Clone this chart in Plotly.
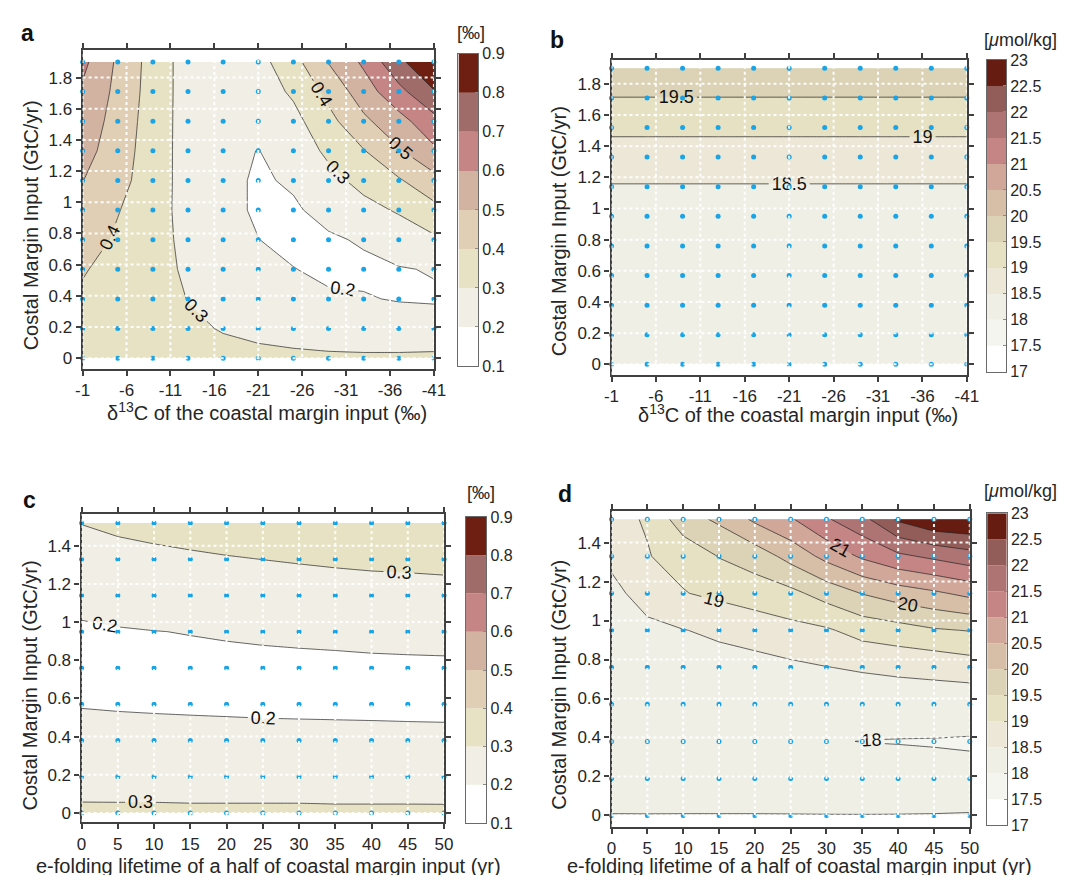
import plotly.graph_objects as go

FONT = "Liberation Sans, Arial, Helvetica, sans-serif"
INK = "#262626"
FRAME = "#404040"
RUN_BLUE = "#18a4e6"
GRID_DOTS = "rgba(255,255,255,0.95)"

# ---- model runs (grid nodes) ----
d13c_runs = [-1, -5, -9, -13, -17, -21, -25, -29, -33, -37, -41]
flux_runs_ab = [0, 0.19, 0.38, 0.57, 0.76, 0.95, 1.14, 1.33, 1.52, 1.71, 1.9]
lifetime_runs = [0, 5, 10, 15, 20, 25, 30, 35, 40, 45, 50]
flux_runs_cd = [0, 0.19, 0.38, 0.57, 0.76, 0.95, 1.14, 1.33, 1.52]

# ---- axis ticks ----
d13c_ticks = [-1, -6, -11, -16, -21, -26, -31, -36, -41]
lifetime_ticks = [0, 5, 10, 15, 20, 25, 30, 35, 40, 45, 50]
flux_ticks_ab = [0, 0.2, 0.4, 0.6, 0.8, 1, 1.2, 1.4, 1.6, 1.8]
flux_ticks_cd = [0, 0.2, 0.4, 0.6, 0.8, 1, 1.2, 1.4]

# ---- contour levels and band colours ----
permil_levels = [0.1, 0.2, 0.3, 0.4, 0.5, 0.6, 0.7, 0.8, 0.9]
permil_colors = ["#ffffff", "#f1efe5", "#e7e2c4", "#e0cfb4", "#d2b2a1",
                 "#c48584", "#a06c6a", "#6e1f12"]
umol_levels = [17, 17.5, 18, 18.5, 19, 19.5, 20, 20.5, 21, 21.5, 22, 22.5, 23]
umol_colors = ["#ffffff", "#f5f5ef", "#f0efe6", "#ece7d6", "#e5e1c2", "#dcd3b6",
               "#d7bea6", "#d1a79a", "#c48584", "#ae7473", "#925d58", "#661c10"]

# ---- (a) d13C change [permil]; rows follow flux_runs_ab, columns d13c_runs ----
a_d13c_change = [
    [0.355, 0.340, 0.340, 0.330, 0.325, 0.320, 0.320, 0.315, 0.313, 0.313, 0.315],
    [0.365, 0.340, 0.335, 0.315, 0.295, 0.280, 0.260, 0.250, 0.245, 0.245, 0.247],
    [0.380, 0.345, 0.335, 0.298, 0.255, 0.230, 0.225, 0.210, 0.205, 0.195, 0.190],
    [0.410, 0.355, 0.335, 0.285, 0.235, 0.215, 0.202, 0.185, 0.185, 0.195, 0.205],
    [0.450, 0.385, 0.335, 0.276, 0.225, 0.201, 0.180, 0.190, 0.208, 0.245, 0.284],
    [0.475, 0.405, 0.340, 0.266, 0.222, 0.190, 0.190, 0.225, 0.270, 0.310, 0.371],
    [0.502, 0.435, 0.345, 0.264, 0.222, 0.190, 0.210, 0.270, 0.330, 0.390, 0.468],
    [0.535, 0.450, 0.348, 0.262, 0.225, 0.198, 0.240, 0.320, 0.395, 0.490, 0.583],
    [0.560, 0.462, 0.352, 0.260, 0.228, 0.225, 0.270, 0.370, 0.480, 0.565, 0.667],
    [0.585, 0.475, 0.357, 0.258, 0.232, 0.250, 0.315, 0.428, 0.553, 0.670, 0.795],
    [0.625, 0.484, 0.360, 0.256, 0.235, 0.265, 0.366, 0.504, 0.617, 0.780, 0.880],
]

# ---- (b) PO4 change [umol/kg]; one value per flux_runs_ab row (same for every d13C) ----
b_po4_profile = [18.20, 18.22, 18.25, 18.28, 18.32, 18.38, 18.47, 18.78, 19.10, 19.49, 19.90]

# ---- (c) d13C change [permil]; rows follow flux_runs_cd, columns lifetime_runs ----
c_d13c_change = [
    [0.312, 0.312, 0.312, 0.311, 0.311, 0.311, 0.311, 0.310, 0.310, 0.310, 0.310],
    [0.272, 0.271, 0.271, 0.270, 0.270, 0.270, 0.270, 0.269, 0.269, 0.269, 0.268],
    [0.238, 0.228, 0.226, 0.223, 0.221, 0.219, 0.2187, 0.2185, 0.217, 0.2163, 0.215],
    [0.195, 0.193, 0.191, 0.190, 0.189, 0.188, 0.187, 0.186, 0.186, 0.185, 0.185],
    [0.178, 0.180, 0.182, 0.186, 0.186, 0.186, 0.186, 0.186, 0.185, 0.185, 0.185],
    [0.185, 0.195, 0.199, 0.2017, 0.205, 0.2085, 0.2118, 0.2152, 0.222, 0.2263, 0.2302],
    [0.233, 0.233, 0.238, 0.242, 0.248, 0.254, 0.258, 0.262, 0.265, 0.270, 0.272],
    [0.260, 0.272, 0.282, 0.290, 0.295, 0.3007, 0.3064, 0.312, 0.317, 0.318, 0.322],
    [0.302, 0.317, 0.3248, 0.3295, 0.3426, 0.345, 0.348, 0.350, 0.353, 0.356, 0.360],
]

# ---- (d) PO4 change [umol/kg]; rows follow flux_runs_cd, columns lifetime_runs ----
d_po4_change = [
    [17.996, 17.996, 17.995, 17.995, 17.995, 17.995, 17.995, 17.995, 17.994, 17.994, 17.994],
    [18.08, 18.09, 18.10, 18.10, 18.10, 18.12, 18.15, 18.17, 18.17, 18.117, 18.07],
    [18.10, 18.11, 18.11, 18.11, 18.10, 18.08, 18.02, 17.995, 17.985, 17.978, 17.975],
    [18.12, 18.15, 18.17, 18.17, 18.16, 18.17, 18.17, 18.174, 18.203, 18.24, 18.156],
    [18.15, 18.22, 18.28, 18.33, 18.335, 18.407, 18.49, 18.554, 18.606, 18.636, 18.75],
    [18.20, 18.37, 18.487, 18.578, 18.704, 18.848, 18.94, 19.182, 19.30, 19.45, 19.52],
    [18.35, 18.725, 18.977, 19.113, 19.25, 19.375, 19.70, 20.02, 20.25, 20.42, 20.63],
    [18.62, 18.98, 19.15, 19.52, 19.727, 20.167, 20.65, 21.077, 21.40, 21.60, 21.80],
    [18.90, 19.03, 19.79, 20.09, 20.59, 20.95, 21.45, 21.85, 22.574, 22.93, 22.98],
]

b_po4_change = [[v for _ in d13c_runs] for v in b_po4_profile]

LABEL_FONT = dict(family=FONT, size=18, color="#111111")
CONTOUR_LINE = dict(color="#222222", width=0.7, smoothing=0)


def band_colorscale(levels, colors):
    # one colour per filled band, plus the colours below the first and above the last level
    stops = [colors[0]] + colors + [colors[-1]]
    n = len(stops) - 1
    return [[i / n, c] for i, c in enumerate(stops)]


def filled_contour(x, y, z, levels, colors, xa, ya, lines=True):
    return go.Contour(
        x=x, y=y, z=z, xaxis=xa, yaxis=ya,
        autocontour=False,
        contours=dict(start=levels[0], end=levels[-1], size=levels[1] - levels[0],
                      coloring="fill", showlines=lines, showlabels=lines,
                      labelfont=LABEL_FONT),
        colorscale=band_colorscale(levels, colors),
        line=CONTOUR_LINE, showscale=False, hoverinfo="skip",
    )


def line_contour(x, y, z, start, end, step, xa, ya, labels):
    return go.Contour(
        x=x, y=y, z=z, xaxis=xa, yaxis=ya,
        autocontour=False,
        contours=dict(start=start, end=end, size=step, coloring="none",
                      showlines=True, showlabels=labels, labelfont=LABEL_FONT),
        line=CONTOUR_LINE, showscale=False, hoverinfo="skip",
    )


def run_nodes(x, y, xa, ya):
    return go.Scatter(
        x=[xv for _ in y for xv in x], y=[yv for yv in y for _ in x],
        mode="markers", marker=dict(color=RUN_BLUE, size=5),
        xaxis=xa, yaxis=ya, cliponaxis=False, hoverinfo="skip", showlegend=False,
    )


def colour_key(levels, colors, xa, ya):
    return go.Bar(
        x=[0.5] * len(colors),
        y=[levels[i + 1] - levels[i] for i in range(len(colors))],
        base=levels[:-1], width=1,
        marker=dict(color=colors, line=dict(width=0)),
        xaxis=xa, yaxis=ya, hoverinfo="skip", showlegend=False,
    )


fig = go.Figure()
fig.add_trace(filled_contour(d13c_runs, flux_runs_ab, a_d13c_change, permil_levels, permil_colors, "x", "y"))
fig.add_trace(run_nodes(d13c_runs, flux_runs_ab, "x", "y"))
fig.add_trace(filled_contour(d13c_runs, flux_runs_ab, b_po4_change, umol_levels, umol_colors, "x2", "y2"))
fig.add_trace(run_nodes(d13c_runs, flux_runs_ab, "x2", "y2"))
fig.add_trace(filled_contour(lifetime_runs, flux_runs_cd, c_d13c_change, permil_levels, permil_colors, "x3", "y3"))
fig.add_trace(run_nodes(lifetime_runs, flux_runs_cd, "x3", "y3"))
# (d): bands first, then unlabelled half-unit lines and labelled whole-unit lines
fig.add_trace(filled_contour(lifetime_runs, flux_runs_cd, d_po4_change, umol_levels, umol_colors, "x4", "y4", lines=False))
fig.add_trace(line_contour(lifetime_runs, flux_runs_cd, d_po4_change, 17.5, 22.5, 1, "x4", "y4", False))
fig.add_trace(line_contour(lifetime_runs, flux_runs_cd, d_po4_change, 18, 23, 1, "x4", "y4", True))
fig.add_trace(run_nodes(lifetime_runs, flux_runs_cd, "x4", "y4"))

fig.add_trace(colour_key(permil_levels, permil_colors, "x5", "y5"))
fig.add_trace(colour_key(umol_levels, umol_colors, "x6", "y6"))
fig.add_trace(colour_key(permil_levels, permil_colors, "x7", "y7"))
fig.add_trace(colour_key(umol_levels, umol_colors, "x8", "y8"))

tick_font = dict(family=FONT, size=17, color=INK)


def frame_axis(domain, rng, tickvals, anchor, ticktext=None):
    ax = dict(domain=domain, range=rng, anchor=anchor, tickvals=tickvals,
              showline=True, linecolor=FRAME, linewidth=2.2, mirror="ticks",
              ticks="outside", ticklen=5, tickwidth=2, tickcolor=FRAME,
              showgrid=False, zeroline=False, tickfont=tick_font)
    if ticktext is not None:
        ax["ticktext"] = ticktext
    return ax


def key_axes(xdom, ydom, levels, xa_anchor, ya_anchor):
    xa = dict(domain=xdom, range=[0, 1], anchor=ya_anchor, showticklabels=False,
              ticks="", showline=True, mirror=True, linecolor="#6a6a6a", linewidth=1,
              showgrid=False, zeroline=False)
    ya = dict(domain=ydom, range=[levels[0], levels[-1]], anchor=xa_anchor, side="right",
              tickvals=levels, ticktext=[f"{v:g}" for v in levels],
              ticks="inside", ticklen=3, tickcolor="#8a8a8a", tickwidth=1,
              showline=True, mirror=True, linecolor="#6a6a6a", linewidth=1,
              showgrid=False, zeroline=False,
              tickfont=dict(family=FONT, size=16, color=INK))
    return xa, ya


d13c_text = [str(v) for v in d13c_ticks]

layout_axes = dict(
    xaxis=frame_axis([0.0708, 0.4041], [-1, -41], d13c_ticks, "y", d13c_text),
    yaxis=frame_axis([0.5847, 0.9515], [-0.069, 1.976], flux_ticks_ab, "x"),
    xaxis2=frame_axis([0.5726, 0.9097], [-1, -41], d13c_ticks, "y2", d13c_text),
    yaxis2=frame_axis([0.5779, 0.9405], [-0.067, 1.955], flux_ticks_ab, "x2"),
    xaxis3=frame_axis([0.0698, 0.4137], [0, 50], lifetime_ticks, "y3"),
    yaxis3=frame_axis([0.0632, 0.4176], [-0.048, 1.566], flux_ticks_cd, "x3"),
    xaxis4=frame_axis([0.5726, 0.9125], [0, 50], lifetime_ticks, "y4"),
    yaxis4=frame_axis([0.0576, 0.4213], [-0.059, 1.5625], flux_ticks_cd, "x4"),
)
for n, (xd, yd, lv) in zip([5, 6, 7, 8], [
        ([0.4274, 0.4460], [0.5880, 0.9473], permil_levels),
        ([0.9288, 0.9469], [0.5813, 0.9402], umol_levels),
        ([0.4342, 0.4537], [0.0621, 0.4142], permil_levels),
        ([0.9290, 0.9476], [0.0595, 0.4187], umol_levels)]):
    xa, ya = key_axes(xd, yd, lv, f"x{n}", f"y{n}")
    layout_axes[f"xaxis{n}"] = xa
    layout_axes[f"yaxis{n}"] = ya

# dotted white grid drawn over the filled contours
shapes = []
grid_line = dict(color=GRID_DOTS, width=2, dash="dot")
for xa, ya, xt, yt in [("x", "y", d13c_ticks, flux_ticks_ab),
                       ("x2", "y2", d13c_ticks, flux_ticks_ab),
                       ("x3", "y3", lifetime_ticks, flux_ticks_cd),
                       ("x4", "y4", lifetime_ticks, flux_ticks_cd)]:
    for t in xt:
        shapes.append(dict(type="line", xref=xa, yref=f"{ya} domain", x0=t, x1=t, y0=0, y1=1,
                           line=grid_line, layer="above"))
    for t in yt:
        shapes.append(dict(type="line", xref=f"{xa} domain", yref=ya, x0=0, x1=1, y0=t, y1=t,
                           line=grid_line, layer="above"))

title_font = dict(family=FONT, size=20, color=INK)
d13c_title = "δ<sup>13</sup>C of the coastal margin input (‰)"
life_title = "e-folding lifetime of a half of coastal margin input (yr)"
flux_title = "Costal Margin Input (GtC/yr)"

annotations = []
for x, y, text in [(0.2458, 0.5361, d13c_title), (0.7495, 0.5339, d13c_title)]:
    annotations.append(dict(x=x, y=y, xref="paper", yref="paper", text=text, showarrow=False,
                            xanchor="center", yanchor="middle", font=title_font))
# the lower titles sit on the bottom edge of the page
for x in [0.2467, 0.7505]:
    annotations.append(dict(x=x, y=0, xref="paper", yref="paper", text=life_title,
                            showarrow=False, xanchor="center", yanchor="bottom",
                            height=20, valign="top", font=title_font))
for x, y in [(0.0214, 0.7494), (0.5228, 0.7432), (0.0208, 0.2203), (0.5228, 0.2212)]:
    annotations.append(dict(x=x, y=y, xref="paper", yref="paper", text=flux_title, showarrow=False,
                            textangle=-90, xanchor="center", yanchor="middle", font=title_font))
for x, y, text in [(0.0189, 0.9718, "a"), (0.5212, 0.9633, "b"),
                   (0.0208, 0.4340, "c"), (0.5284, 0.4413, "d")]:
    annotations.append(dict(x=x, y=y, xref="paper", yref="paper", text=f"<b>{text}</b>",
                            showarrow=False, xanchor="center", yanchor="middle",
                            font=dict(family=FONT, size=23, color="#111111")))
for x, y, text in [(0.4395, 0.9718, "[‰]"), (0.9609, 0.9628, "[<i>μ</i>mol/kg]"),
                   (0.4488, 0.4424, "[‰]"), (0.9609, 0.4441, "[<i>μ</i>mol/kg]")]:
    annotations.append(dict(x=x, y=y, xref="paper", yref="paper", text=text, showarrow=False,
                            xanchor="center", yanchor="middle",
                            font=dict(family=FONT, size=18, color=INK)))

fig.update_layout(
    width=1074, height=886, margin=dict(l=0, r=0, t=0, b=0),
    paper_bgcolor="white", plot_bgcolor="white",
    barmode="overlay", showlegend=False,
    font=dict(family=FONT, color=INK),
    shapes=shapes, annotations=annotations,
    **layout_axes,
)

fig.write_html("out.html")
